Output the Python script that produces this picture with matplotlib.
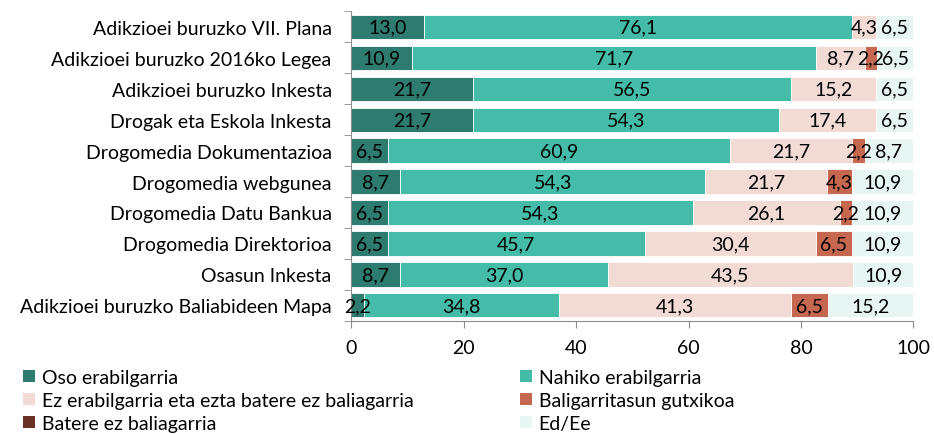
import numpy as np
import matplotlib.pyplot as plt
from matplotlib.patches import Patch

plt.rcParams['font.family'] = ['Lato', 'DejaVu Sans']

categories = [
    "Adikzioei buruzko VII. Plana",
    "Adikzioei buruzko 2016ko Legea",
    "Adikzioei buruzko Inkesta",
    "Drogak eta Eskola Inkesta",
    "Drogomedia Dokumentazioa",
    "Drogomedia webgunea",
    "Drogomedia Datu Bankua",
    "Drogomedia Direktorioa",
    "Osasun Inkesta",
    "Adikzioei buruzko Baliabideen Mapa",
]

series_names = [
    "Oso erabilgarria",
    "Nahiko erabilgarria",
    "Ez erabilgarria eta ezta batere ez baliagarria",
    "Baligarritasun gutxikoa",
    "Batere ez baliagarria",
    "Ed/Ee",
]

oso = [13.0, 10.9, 21.7, 21.7, 6.5, 8.7, 6.5, 6.5, 8.7, 2.2]
nahiko = [76.1, 71.7, 56.5, 54.3, 60.9, 54.3, 54.3, 45.7, 37.0, 34.8]
ez = [4.3, 8.7, 15.2, 17.4, 21.7, 21.7, 26.1, 30.4, 43.5, 41.3]
gutxi = [0, 2.2, 0, 0, 2.2, 4.3, 2.2, 6.5, 0, 6.5]
batere = [0, 0, 0, 0, 0, 0, 0, 0, 0, 0]
eded = [6.5, 6.5, 6.5, 6.5, 8.7, 10.9, 10.9, 10.9, 10.9, 15.2]

colors = ["#2E7B6F", "#45BBA9", "#F2DAD5", "#C6674F", "#6B3124", "#E7F5F3"]

data = [oso, nahiko, ez, gutxi, batere, eded]

fig = plt.figure(figsize=(9.34, 4.35), dpi=100)
ax = fig.add_axes([0.376, 0.26, 0.602, 0.712])

y = np.arange(len(categories))
left = np.zeros(len(categories))
for vals, col in zip(data, colors):
    vals = np.array(vals)
    ax.barh(y, vals, left=left, height=0.78, color=col, edgecolor="white", linewidth=0.6)
    for yi, (l, v) in enumerate(zip(left, vals)):
        if v > 0:
            ax.text(l + v / 2, yi, f"{v:.1f}".replace(".", ","),
                    ha="center", va="center", fontsize=14, color="black")
    left += vals

ax.set_xlim(0, 100)
ax.set_ylim(len(categories) - 0.5, -0.5)
ax.set_xticks([0, 20, 40, 60, 80, 100])
ax.tick_params(axis="x", labelsize=14, length=5, color="#8C8C8C", pad=8)
ax.set_yticks(y)
ax.set_yticklabels(categories, fontsize=14)
ax.tick_params(axis="y", length=0, pad=14)
ax.set_yticks(np.arange(len(categories) + 1) - 0.5, minor=True)
ax.tick_params(axis="y", which="minor", length=5, color="#8C8C8C")

for s in ["top", "right"]:
    ax.spines[s].set_visible(False)
ax.spines["left"].set_color("#8C8C8C")
ax.spines["bottom"].set_color("#8C8C8C")

handles = [Patch(facecolor=c, edgecolor="none") for c in colors]
order = [0, 2, 4, 1, 3, 5]
fig.legend([handles[i] for i in order], [series_names[i] for i in order],
           ncol=2, loc="lower left", bbox_to_anchor=(0.006, -0.035),
           frameon=False, fontsize=14, handlelength=0.6, handleheight=0.6,
           handletextpad=0.35, labelspacing=0.3, columnspacing=5.5)

fig.savefig("out.png", dpi=100)
